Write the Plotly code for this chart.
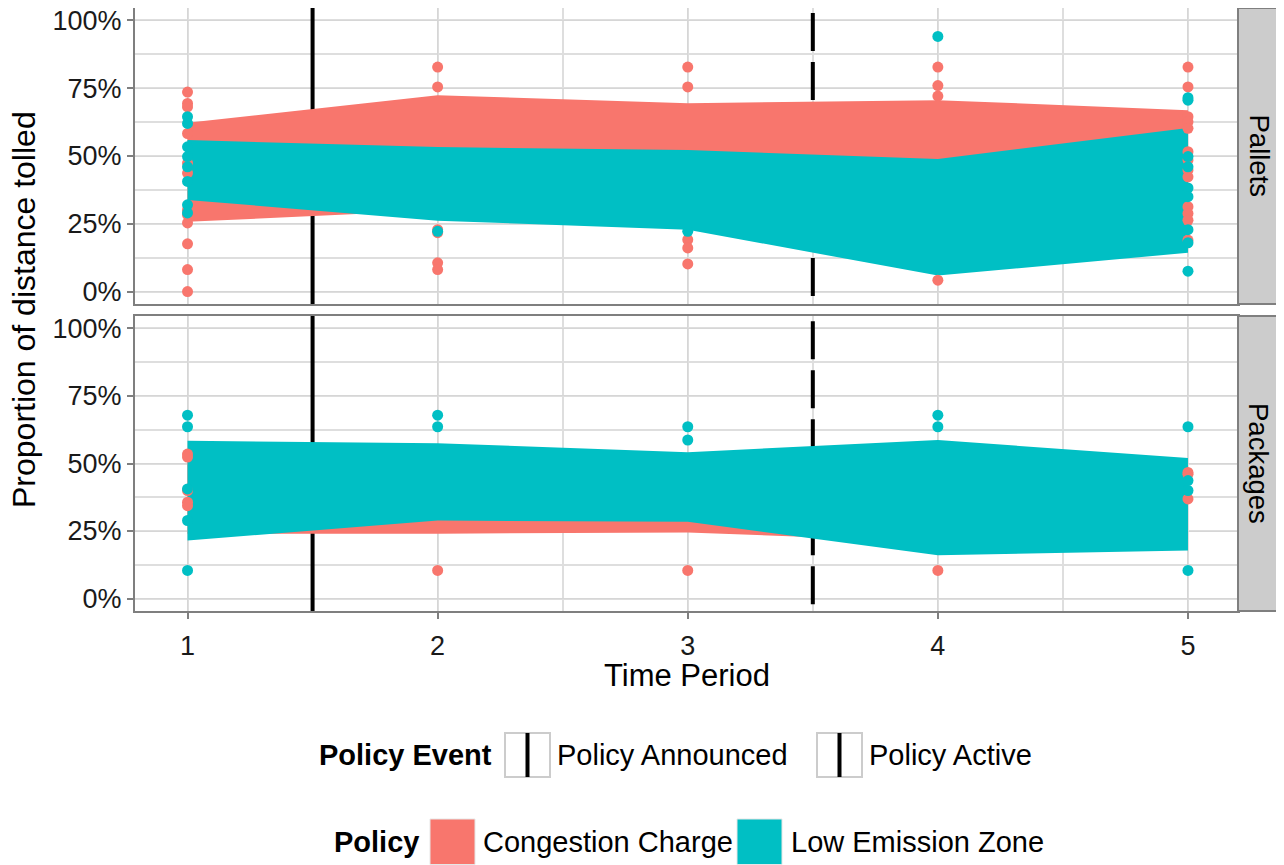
import plotly.graph_objects as go

# ---------------- data ----------------
periods = [1, 2, 3, 4, 5]
panels = ["Pallets", "Packages"]
policies = ["Congestion Charge", "Low Emission Zone"]
policy_colors = ["#F8766D", "#00BFC4"]
event_names = ["Policy Announced", "Policy Active"]
event_x = [1.5, 3.5]
event_dash = ["solid", "38px,11px"]
y_ticks = [0, 25, 50, 75, 100]
y_tick_labels = ["0%", "25%", "50%", "75%", "100%"]

# Pallets ribbons (percent)
pal_cc_upper = [62.3, 72.4, 69.5, 70.6, 66.9]
pal_cc_lower = [25.7, 30.0, 28.0, 25.0, 25.0]
pal_lez_upper = [55.9, 53.3, 52.2, 48.9, 60.3]
pal_lez_lower = [33.8, 26.1, 22.8, 5.9, 14.3]
# Packages ribbons (percent)
pkg_cc_upper = [52.0, 50.0, 48.0, 50.0, 46.0]
pkg_cc_lower = [24.0, 24.0, 24.5, 21.0, 22.0]
pkg_lez_upper = [58.4, 57.5, 54.2, 58.7, 52.0]
pkg_lez_lower = [21.5, 28.9, 28.4, 16.0, 17.8]

# outlying points (period, percent)
pal_cc_pts_x = [1]*12 + [2]*6 + [3]*5 + [4]*4 + [5]*13
pal_cc_pts_y = [73.6, 69.4, 68.1, 58.3, 47.4, 43.7, 30.1, 28.3, 25.3, 17.6, 8.1, 0.0,
                82.8, 75.5, 22.8, 21.7, 10.6, 8.1,
                82.8, 75.5, 19.1, 16.1, 10.2,
                82.8, 76.0, 72.1, 4.2,
                82.8, 75.5, 64.5, 62.6, 60.2, 51.6, 48.5, 44.8, 42.3, 31.3, 28.8, 26.3, 19.0]
pal_lez_pts_x = [1]*8 + [2] + [3] + [4] + [5]*9
pal_lez_pts_y = [64.5, 62.0, 53.4, 49.8, 46.0, 40.6, 32.0, 29.0,
                 22.2,
                 22.2,
                 94.1,
                 71.5, 70.6, 49.8, 46.0, 38.2, 35.0, 22.8, 18.0, 7.5]
pkg_cc_pts_x = [1]*5 + [2] + [3] + [4] + [5]*3
pkg_cc_pts_y = [53.5, 52.4, 40.0, 35.7, 34.4,
                10.4,
                10.4,
                10.4,
                46.7, 46.0, 36.9]
pkg_lez_pts_x = [1]*5 + [2]*2 + [3]*2 + [4]*2 + [5]*4
pkg_lez_pts_y = [67.9, 63.6, 40.6, 28.9, 10.4,
                 67.9, 63.6,
                 63.6, 58.7,
                 67.9, 63.6,
                 63.6, 43.7, 40.0, 10.4]

ribbons = {
    "Pallets": [(pal_cc_upper, pal_cc_lower), (pal_lez_upper, pal_lez_lower)],
    "Packages": [(pkg_cc_upper, pkg_cc_lower), (pkg_lez_upper, pkg_lez_lower)],
}
points = {
    "Pallets": [(pal_cc_pts_x, pal_cc_pts_y), (pal_lez_pts_x, pal_lez_pts_y)],
    "Packages": [(pkg_cc_pts_x, pkg_cc_pts_y), (pkg_lez_pts_x, pkg_lez_pts_y)],
}

# ---------------- layout helpers ----------------
OFF = 8  # page body margin
W, H = 1284 - OFF, 865 - OFF
FONT = "Liberation Sans, Arial, sans-serif"
def px(x):
    return (x - OFF) / W
def py(y):
    return 1 - (y - OFF) / H

PX_L, PX_R, STRIP_R = 135, 1238, 1279
panel_px = {"Pallets": (8, 304), "Packages": (316, 611)}
YR = [-4.6, 104.6]
XR = [0.79, 5.2]

fig = go.Figure()
axes = {"Pallets": ("x", "y"), "Packages": ("x2", "y2")}

for pan in panels:
    xa, ya = axes[pan]
    for ex, dash in zip(event_x, event_dash):
        fig.add_trace(go.Scatter(x=[ex, ex], y=[120.8, -20], mode="lines",
                                 line=dict(color="black", width=4, dash=dash),
                                 xaxis=xa, yaxis=ya, showlegend=False, hoverinfo="skip"))
    for (up, lo), col in zip(ribbons[pan], policy_colors):
        fig.add_trace(go.Scatter(x=periods + periods[::-1], y=up + lo[::-1],
                                 fill="toself", fillcolor=col, mode="lines",
                                 line=dict(width=0, color=col),
                                 xaxis=xa, yaxis=ya, showlegend=False, hoverinfo="skip"))
    for (xs, ys), col in zip(points[pan], policy_colors):
        fig.add_trace(go.Scatter(x=xs, y=ys, mode="markers",
                                 marker=dict(color=col, size=11, line=dict(width=0)),
                                 xaxis=xa, yaxis=ya, showlegend=False, cliponaxis=False))

grid_major = "#d6d6d6"
grid_minor = "#dedede"
border = "#7f7f7f"
TICK_FONT = dict(family=FONT, size=27, color="#1a1a1a")

def xaxis_cfg(show_labels):
    return dict(domain=[px(PX_L), px(PX_R)], range=XR, tickmode="array",
                tickvals=periods, ticktext=[str(p) for p in periods],
                showticklabels=show_labels, ticks="outside" if show_labels else "",
                ticklen=6, tickwidth=1.5, tickcolor=border, ticklabelstandoff=4,
                tickfont=TICK_FONT, ticklabeloverflow="allow",
                showgrid=True, gridcolor=grid_major, gridwidth=1.2,
                minor=dict(dtick=0.5, tick0=0.5, showgrid=True, gridcolor=grid_minor, gridwidth=2),
                showline=True, mirror=True, linecolor=border, linewidth=2,
                zeroline=False, fixedrange=True)

def yaxis_cfg(pan):
    t, b = panel_px[pan]
    return dict(domain=[py(b), py(t)], range=YR, tickmode="array",
                tickvals=y_ticks, ticktext=y_tick_labels,
                ticks="outside", ticklen=6, tickwidth=1.5, tickcolor=border,
                tickfont=TICK_FONT, ticklabeloverflow="allow",
                showgrid=True, gridcolor=grid_major, gridwidth=1.2,
                minor=dict(dtick=12.5, tick0=12.5, showgrid=True, gridcolor=grid_minor, gridwidth=2),
                showline=True, mirror=True, linecolor=border, linewidth=2,
                zeroline=False, fixedrange=True)

fig.update_layout(
    width=W, height=H, margin=dict(l=0, r=0, t=0, b=0, autoexpand=False),
    paper_bgcolor="white", plot_bgcolor="white",
    xaxis=dict(anchor="y", **xaxis_cfg(False)),
    yaxis=dict(anchor="x", **yaxis_cfg("Pallets")),
    xaxis2=dict(anchor="y2", **xaxis_cfg(True)),
    yaxis2=dict(anchor="x2", **yaxis_cfg("Packages")),
    font=dict(family=FONT, color="black"),
    showlegend=False,
)

shapes = []
annotations = []

def label(text, x, y, size, anchor="center", angle=0):
    annotations.append(dict(text=text, x=px(x), y=py(y), xref="paper", yref="paper",
                            xanchor=anchor, yanchor="middle", showarrow=False,
                            textangle=angle,
                            font=dict(family=FONT, size=size, color="black")))

for pan in panels:
    t, b = panel_px[pan]
    shapes.append(dict(type="rect", xref="paper", yref="paper",
                       x0=px(PX_R), x1=px(STRIP_R), y0=py(b), y1=py(t),
                       fillcolor="#cccccc", line=dict(color=border, width=2)))
    label(pan, (PX_R + STRIP_R) / 2, (t + b) / 2, 27.5, angle=90)

label("Time Period", (PX_L + PX_R) / 2, 675, 31)
label("Proportion of distance tolled", 24, 310, 32, angle=-90)

LEG_FONT = 29
lg1_y = 755
label("<b>Policy Event</b>", 494, lg1_y, LEG_FONT, anchor="right")
for name, (bx0, tx) in zip(event_names, [(505, 555), (817, 867)]):
    shapes.append(dict(type="rect", xref="paper", yref="paper",
                       x0=px(bx0), x1=px(bx0 + 45), y0=py(777), y1=py(733),
                       fillcolor="white", line=dict(color="#cccccc", width=2)))
    shapes.append(dict(type="line", xref="paper", yref="paper",
                       x0=px(bx0 + 22.5), x1=px(bx0 + 22.5), y0=py(777), y1=py(733),
                       line=dict(color="black", width=4)))
    label(name, tx, lg1_y, LEG_FONT, anchor="left")

lg2_y = 842
label("<b>Policy</b>", 421, lg2_y, LEG_FONT, anchor="right")
for name, col, (bx0, tx) in zip(policies, policy_colors, [(430, 481), (737, 789)]):
    shapes.append(dict(type="rect", xref="paper", yref="paper",
                       x0=px(bx0), x1=px(bx0 + 45), y0=py(864.5), y1=py(819),
                       fillcolor=col, line=dict(color="#e6e6e6", width=1)))
    label(name, tx, lg2_y, LEG_FONT, anchor="left")

fig.update_layout(shapes=shapes, annotations=annotations)
fig.write_html("out.html")
